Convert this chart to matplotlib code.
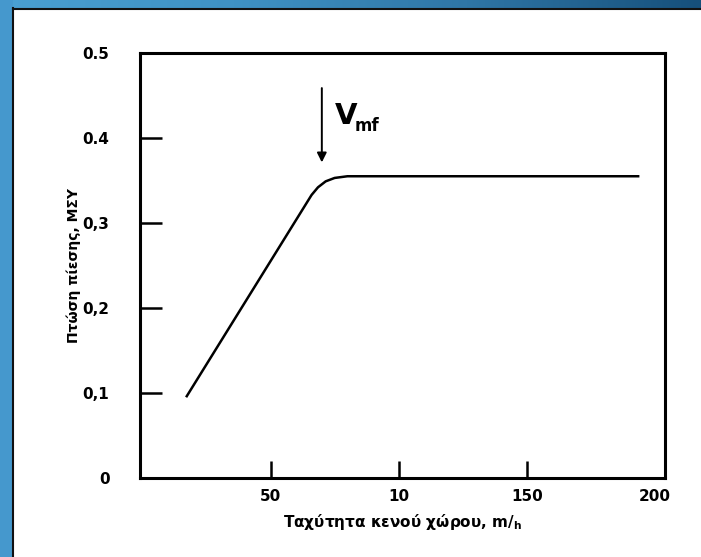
import numpy as np
import matplotlib
matplotlib.use("Agg")
import matplotlib.pyplot as plt
from matplotlib.patches import Rectangle
from matplotlib.lines import Line2D

# curve (velocity, pressure drop)
velocity = [17, 66, 68.5, 71.5, 75, 80, 120, 194]
pressure_drop = [0.095, 0.333, 0.342, 0.349, 0.353, 0.355, 0.355, 0.355]

x_ticks = [50, 100, 150, 200]
x_tick_labels = ["50", "10", "150", "200"]
y_ticks = [0, 0.1, 0.2, 0.3, 0.4, 0.5]
y_tick_labels = ["0", "0,1", "0,2", "0,3", "0.4", "0.5"]

vmf_x = 70
vmf_arrow_top = 0.462
vmf_arrow_tip = 0.368


def main():
    W, H = 701, 557
    fig = plt.figure(figsize=(W / 100, H / 100), dpi=100)
    fig.patch.set_facecolor("white")

    # blue frame: left strip and gradient strip on top
    fig.patches.append(Rectangle((0, 0), 13 / W, 1, transform=fig.transFigure,
                                 facecolor="#4598cd", edgecolor="none", zorder=0))
    top = fig.add_axes([0, 1 - 8 / H, 1, 8 / H])
    grad = np.linspace(0, 1, 256).reshape(1, -1)
    cmap = matplotlib.colors.LinearSegmentedColormap.from_list(
        "frame", ["#4aa0d2", "#3f92c4", "#2f76a6", "#16507b"])
    top.imshow(grad, aspect="auto", cmap=cmap, extent=[0, 1, 0, 1])
    top.axis("off")
    fig.lines.append(Line2D([13.5 / W, 13.5 / W], [0, 1 - 8 / H], transform=fig.transFigure,
                            color="#111111", lw=1.5))
    fig.lines.append(Line2D([13.5 / W, 1], [1 - 8.5 / H, 1 - 8.5 / H], transform=fig.transFigure,
                            color="#111111", lw=1.5))

    ax = fig.add_axes([140 / W, 79 / H, 525 / W, 425 / H])
    ax.plot(velocity, pressure_drop, color="black", lw=1.8, solid_capstyle="butt")
    ax.set_xlim(-1, 204)
    ax.set_ylim(0, 0.5)

    for s in ax.spines.values():
        s.set_linewidth(2.2)

    ax.set_xticks(x_ticks)
    ax.set_xticklabels(x_tick_labels)
    ax.set_yticks(y_ticks)
    ax.set_yticklabels(y_tick_labels)
    ax.tick_params(axis="x", direction="in", length=12, width=1.8, pad=8,
                   labelsize=11)
    ax.tick_params(axis="y", direction="in", length=16, width=1.8, pad=22,
                   labelsize=11)
    for lab in ax.get_xticklabels() + ax.get_yticklabels():
        lab.set_fontweight("bold")
    ax.xaxis.get_major_ticks()[-1].tick1line.set_visible(False)
    ax.yaxis.get_major_ticks()[0].tick1line.set_visible(False)
    ax.yaxis.get_major_ticks()[-1].tick1line.set_visible(False)

    ax.set_xlabel(r"Ταχύτητα κενού χώρου, m/$_{\mathbf{h}}$", fontsize=11,
                  fontweight="bold", labelpad=6)
    ax.set_ylabel("Πτώση πίεσης, ΜΣΥ", fontsize=10, fontweight="bold",
                  labelpad=1)

    # V_mf arrow and label
    ax.annotate("", xy=(vmf_x, vmf_arrow_tip), xytext=(vmf_x, vmf_arrow_top),
                arrowprops=dict(arrowstyle="-|>", color="black", lw=1.4,
                                mutation_scale=14))
    ax.text(vmf_x + 5, 0.426, "V", fontsize=21, fontweight="bold",
            ha="left", va="center")
    ax.text(vmf_x + 13, 0.414, "mf", fontsize=12, fontweight="bold",
            ha="left", va="center")

    fig.savefig("out.png", dpi=100, facecolor="white")


if __name__ == "__main__":
    main()
